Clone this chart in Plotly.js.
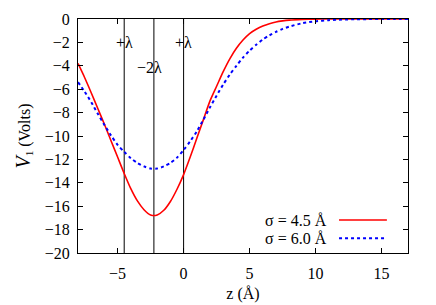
<!DOCTYPE html>
<html><head><meta charset="utf-8">
<script src="https://cdn.plot.ly/plotly-3.0.1.min.js"></script>
<style>html,body{margin:0;padding:0;background:#fff;overflow:hidden}#plot{width:436px;height:305px}
#fontwarm{position:absolute;left:-2000px;top:0;font-family:'Liberation Serif';font-size:16px;color:#fff}</style>
</head><body><div id="fontwarm">σ λ Å −0123456789 Volts <i>V</i></div><div id="plot"></div>
<script>
const zValues = [-8,-7.5,-7,-6.5,-6,-5.5,-5,-4.5,-4,-3.5,-3,-2.5,-2,-1.5,-1,-0.5,0,0.5,1,1.5,2,2.5,3,3.5,4,4.5,5,5.5,6,6.5,7,7.5,8,9,10,11,12,13,14,15,16,17];
const v1Sigma45 = [-3.8,-5.0,-6.3,-7.65,-9.0,-10.4,-11.8,-13.2,-14.5,-15.55,-16.3,-16.75,-16.75,-16.35,-15.6,-14.55,-13.3,-11.8,-10.2,-8.6,-7.0,-5.75,-4.5,-3.4,-2.5,-1.8,-1.25,-0.88,-0.6,-0.4,-0.25,-0.16,-0.1,-0.04,-0.01,0,0,0,0,0,0,0];
const v1Sigma60 = [-5.4,-6.2,-7.1,-8.1,-9.05,-9.95,-10.75,-11.35,-11.9,-12.3,-12.6,-12.78,-12.78,-12.6,-12.3,-11.85,-11.2,-10.45,-9.6,-8.6,-7.55,-6.55,-5.6,-4.75,-4.0,-3.3,-2.7,-2.2,-1.75,-1.4,-1.1,-0.85,-0.65,-0.36,-0.19,-0.1,-0.05,-0.02,-0.01,0,0,0];
const seriesNames = ['σ = 4.5 Å','σ = 6.0 Å'];
const lambdaLines = [-4.5,-2.25,0];
const lambdaLabels = ['+λ','−2λ','+λ'];
const lambdaLabelX = [-4.5,-2.6,0];
const lambdaLabelY = [-2,-4.15,-2];
const xTicks = [-5,0,5,10,15];
const yTicks = [0,-2,-4,-6,-8,-10,-12,-14,-16,-18,-20];

function mk(){ return {family:'Liberation Serif', size:16, color:'#000'}; }
function draw(){
const traces = [];
lambdaLines.forEach(x => traces.push({x:[x,x], y:[-20,0], mode:'lines', line:{color:'#000', width:1}, showlegend:false, hoverinfo:'skip'}));
traces.push({x:zValues, y:v1Sigma45, mode:'lines', line:{color:'#ff0000', width:1.6, shape:'spline', smoothing:0.7}, name:seriesNames[0], showlegend:false});
traces.push({x:zValues, y:v1Sigma60, mode:'lines', line:{color:'#0000ff', width:2, dash:'dot', shape:'spline', smoothing:0.7}, name:seriesNames[1], showlegend:false});

const annotations = lambdaLabels.map((t,i)=>({x:lambdaLabelX[i], y:lambdaLabelY[i], xref:'x', yref:'y', text:t, showarrow:false, font:mk(), xanchor:'center', yanchor:'middle'}));
const legendY = [0.141, 0.063];
seriesNames.forEach((n,i)=>annotations.push({xref:'paper', yref:'paper', x:0.76, y:legendY[i], text:n, showarrow:false, font:mk(), xanchor:'right', yanchor:'middle'}));
const shapes = [
  {type:'line', xref:'paper', yref:'paper', x0:0.791, x1:0.936, y0:legendY[0], y1:legendY[0], line:{color:'#ff0000', width:1.6}},
  {type:'line', xref:'paper', yref:'paper', x0:0.791, x1:0.936, y0:legendY[1], y1:legendY[1], line:{color:'#0000ff', width:2, dash:'dot'}}
];

const layout = {
  width:436, height:305,
  margin:{l:78, r:28, t:19, b:52},
  paper_bgcolor:'#fff', plot_bgcolor:'#fff',
  font:{family:'Liberation Serif', size:16, color:'#000'},
  showlegend:false,
  xaxis:{range:[-8,17], tickvals:xTicks, ticks:'inside', ticklen:5, tickcolor:'#000', mirror:'ticks', showline:true, linecolor:'#000', linewidth:1, showgrid:false, zeroline:false, ticklabelstandoff:6, tickfont:mk(), title:{text:'z (Å)', font:mk(), standoff:6}},
  yaxis:{range:[-20,0], tickvals:yTicks, ticks:'inside', ticklen:5, tickcolor:'#000', mirror:'ticks', showline:true, linecolor:'#000', linewidth:1, showgrid:false, zeroline:false, ticklabelstandoff:4, tickfont:mk(), title:{text:'<span style="font-size:20px"><i>V</i></span><sub>1</sub> (Volts)', font:mk(), standoff:10}},
  annotations:annotations,
  shapes:shapes
};
Plotly.newPlot('plot', traces, layout, {staticPlot:true, displayModeBar:false});
}
if (document.fonts && document.fonts.load) {
  Promise.all([document.fonts.load('16px "Liberation Serif"'), document.fonts.load('italic 16px "Liberation Serif"')]).then(draw, draw);
} else { draw(); }
</script></body></html>
